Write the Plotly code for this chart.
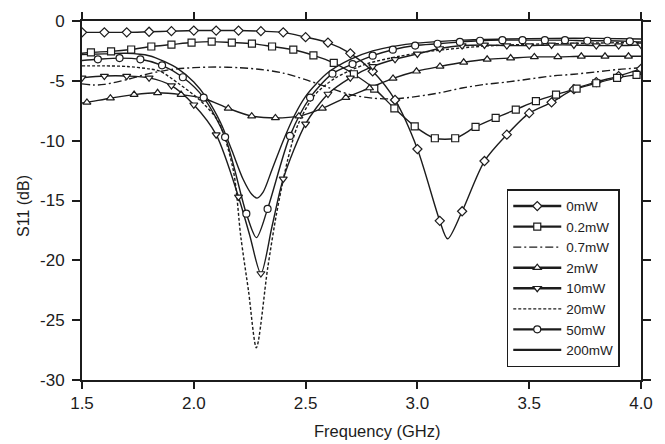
import plotly.graph_objects as go

# ---------------- data ----------------
X_TICKS = [1.5, 2.0, 2.5, 3.0, 3.5, 4.0]
X_TICK_TEXT = ["1.5", "2.0", "2.5", "3.0", "3.5", "4.0"]
Y_TICKS = [0, -5, -10, -15, -20, -25, -30]
Y_TICK_TEXT = ["0", "-5", "-10", "-15", "-20", "-25", "-30"]

SERIES_NAMES = ["0mW", "0.2mW", "0.7mW", "2mW", "10mW", "20mW", "50mW", "200mW"]

# 0 mW (diamonds) - marker points
F_0MW = [1.5, 1.6, 1.7, 1.8, 1.9, 2.0, 2.1, 2.2, 2.3, 2.4, 2.5, 2.6, 2.7, 2.8, 2.9,
         3.0, 3.1, 3.2, 3.3, 3.4, 3.5, 3.6, 3.7, 3.8, 3.9, 4.0]
S_0MW = [-0.95, -0.95, -0.95, -0.9, -0.85, -0.8, -0.8, -0.8, -0.85, -0.95, -1.35, -1.8,
         -2.7, -4.2, -6.6, -10.7, -16.7, -15.9, -11.7, -9.5, -7.7, -6.8, -5.7, -5.1, -4.6, -4.0]
# extra curve points (no marker)
F_0MW_X = [3.135]
S_0MW_X = [-18.2]

# 0.2 mW (squares)
F_02MW = [1.54, 1.63, 1.72, 1.81, 1.90, 1.99, 2.08, 2.17, 2.26, 2.35, 2.445, 2.535, 2.626,
          2.716, 2.807, 2.897, 2.988, 3.078, 3.169, 3.26, 3.35, 3.44, 3.53, 3.62, 3.712,
          3.80, 3.893, 3.98]
S_02MW = [-2.62, -2.54, -2.38, -2.13, -1.97, -1.8, -1.72, -1.8, -1.89, -2.13, -2.4, -2.87,
          -3.5, -4.45, -5.65, -7.3, -8.8, -9.8, -9.8, -8.85, -8.1, -7.4, -6.7, -6.15, -5.65,
          -5.2, -4.75, -4.5]
F_02MW_X = [1.5, 4.0]
S_02MW_X = [-2.7, -4.45]

# 0.7 mW (dash-dot, no markers)
F_07MW = [1.5, 1.55, 1.6, 1.7, 1.8, 1.9, 2.0, 2.1, 2.2, 2.3, 2.4, 2.5, 2.6, 2.7, 2.8, 2.9,
          3.0, 3.1, 3.2, 3.3, 3.4, 3.5, 3.6, 3.7, 3.8, 3.9, 4.0]
S_07MW = [-5.25, -5.35, -5.3, -4.9, -4.4, -4.05, -3.9, -3.85, -3.9, -4.05, -4.35, -4.9,
          -5.55, -6.15, -6.45, -6.5, -6.3, -6.0, -5.6, -5.3, -5.1, -4.85, -4.6, -4.45,
          -4.25, -4.05, -3.9]

# 2 mW (up triangles)
F_2MW = [1.522, 1.627, 1.733, 1.838, 1.943, 2.049, 2.154, 2.259, 2.365, 2.470, 2.575,
         2.680, 2.786, 2.891, 2.996, 3.101, 3.207, 3.312, 3.417, 3.523, 3.628, 3.733,
         3.839, 3.944]
S_2MW = [-6.8, -6.45, -6.15, -6.0, -6.15, -6.5, -7.3, -7.95, -8.1, -7.95, -7.3, -6.4,
         -5.6, -4.8, -4.2, -3.8, -3.45, -3.2, -3.1, -3.0, -3.0, -2.95, -2.95, -2.95]
F_2MW_X = [1.5, 4.0]
S_2MW_X = [-6.85, -2.95]

# 10 mW (down triangles)
F_10MW = [1.5, 1.6, 1.7, 1.8, 1.9, 2.0, 2.1, 2.2, 2.3, 2.4, 2.5, 2.6, 2.7, 2.8, 2.9,
          3.0, 3.1, 3.2, 3.3, 3.4, 3.5, 3.6, 3.7, 3.8, 3.9, 4.0]
S_10MW = [-4.75, -4.6, -4.6, -4.75, -5.4, -7.0, -9.5, -14.7, -21.1, -13.2, -8.6, -6.1,
          -4.75, -3.8, -3.2, -2.75, -2.3, -2.05, -2.0, -2.05, -2.05, -2.0, -2.0, -2.05,
          -2.05, -2.0]
F_10MW_X = [2.25, 2.35]
S_10MW_X = [-17.9, -17.15]

# 20 mW (dashed, no markers)
F_20MW = [1.5, 1.6, 1.7, 1.8, 1.85, 1.93, 2.02, 2.11, 2.177, 2.21, 2.245, 2.28, 2.33,
          2.37, 2.42, 2.465, 2.54, 2.63, 2.77, 2.92, 3.07, 3.3, 3.6, 4.0]
S_20MW = [-3.75, -3.75, -3.8, -4.0, -4.2, -5.2, -6.5, -8.4, -12.5, -18.0, -22.6, -27.3,
          -20.7, -16.1, -11.6, -8.7, -6.2, -4.8, -3.6, -2.95, -2.5, -2.1, -1.9, -1.8]

# 50 mW (circles)
F_50MW = [1.571, 1.668, 1.761, 1.858, 1.951, 2.044, 2.14, 2.235, 2.33, 2.43, 2.52, 2.62,
          2.71, 2.80, 2.89, 2.99, 3.09, 3.19, 3.28, 3.38, 3.47, 3.57, 3.66, 3.76, 3.85, 3.95]
S_50MW = [-3.2, -3.1, -3.2, -3.7, -4.7, -6.4, -9.7, -16.1, -15.7, -9.6, -6.4, -4.4, -3.6,
          -2.9, -2.4, -2.05, -1.9, -1.75, -1.65, -1.6, -1.6, -1.6, -1.6, -1.65, -1.65, -1.7]
F_50MW_X = [1.5, 2.28, 4.0]
S_50MW_X = [-3.3, -18.1, -1.75]

# 200 mW (solid, no markers)
F_200MW = [1.5, 1.6, 1.7, 1.8, 1.87, 1.93, 2.0, 2.06, 2.12, 2.17, 2.22, 2.26, 2.283, 2.31,
           2.35, 2.40, 2.45, 2.5, 2.55, 2.6, 2.7, 2.8, 2.9, 3.0, 3.2, 3.4, 3.6, 3.8, 4.0]
S_200MW = [-2.8, -2.75, -2.7, -2.9, -3.4, -4.0, -5.1, -6.5, -8.5, -10.8, -13.2, -14.5,
           -14.8, -14.3, -12.4, -10.0, -7.9, -6.3, -5.2, -4.3, -3.2, -2.5, -2.1, -1.85,
           -1.6, -1.5, -1.45, -1.45, -1.5]

# ---------------- styling ----------------
INK = "#1c1c1c"
FONT = "Liberation Sans, Arial, sans-serif"
LW = 1.4


def merged(fm, sm, fx, sx):
    pts = sorted(zip(list(fm) + list(fx), list(sm) + list(sx)))
    return [p[0] for p in pts], [p[1] for p in pts]


series = [
    # name, marker F, marker S, extra F, extra S, symbol, dash, marker size
    ("0mW", F_0MW, S_0MW, F_0MW_X, S_0MW_X, "diamond", "solid", 7),
    ("0.2mW", F_02MW, S_02MW, F_02MW_X, S_02MW_X, "square", "solid", 7),
    ("0.7mW", F_07MW, S_07MW, [], [], None, "8px,3px,2px,3px", 0),
    ("2mW", F_2MW, S_2MW, F_2MW_X, S_2MW_X, "triangle-up", "solid", 7),
    ("10mW", F_10MW, S_10MW, F_10MW_X, S_10MW_X, "triangle-down", "solid", 7),
    ("20mW", F_20MW, S_20MW, [], [], None, "3px,2px", 0),
    ("50mW", F_50MW, S_50MW, F_50MW_X, S_50MW_X, "circle", "solid", 7),
    ("200mW", F_200MW, S_200MW, [], [], None, "solid", 0),
]

fig = go.Figure()

# curves
for name, fm, sm, fx, sx, sym, dash, msz in series:
    xs, ys = merged(fm, sm, fx, sx)
    fig.add_trace(go.Scatter(
        x=xs, y=ys, mode="lines", showlegend=False, hoverinfo="skip",
        line=dict(color=INK, width=LW, dash=dash, shape="spline", smoothing=0.8),
    ))

# markers
for name, fm, sm, fx, sx, sym, dash, msz in series:
    if sym is None:
        continue
    fig.add_trace(go.Scatter(
        x=fm, y=sm, mode="markers", showlegend=False, hoverinfo="skip",
        marker=dict(symbol=sym, size=msz, color="white", line=dict(color=INK, width=1.2)),
    ))

# legend entries
for name, fm, sm, fx, sx, sym, dash, msz in series:
    if sym is None:
        fig.add_trace(go.Scatter(
            x=[None], y=[None], mode="lines", name=name,
            line=dict(color=INK, width=1.3 if dash != "solid" else 2.4, dash=dash),
        ))
    else:
        fig.add_trace(go.Scatter(
            x=[None], y=[None], mode="lines+markers", name=name,
            line=dict(color=INK, width=2.4),
            marker=dict(symbol=sym, size=msz, color="white", line=dict(color=INK, width=1.2)),
        ))

axis_common = dict(
    showline=True, linecolor=INK, linewidth=2, mirror="ticks",
    ticks="outside", tickwidth=1.5, tickcolor=INK,
    showgrid=False, zeroline=False,
    tickfont=dict(family=FONT, size=17, color=INK),
)

fig.update_layout(
    width=665, height=444,
    margin=dict(l=82, r=17, t=14, b=64),
    paper_bgcolor="white", plot_bgcolor="white",
    font=dict(family=FONT, color=INK),
    xaxis=dict(range=[1.5, 4.0], tickvals=X_TICKS, ticktext=X_TICK_TEXT, ticklen=7,
               **axis_common),
    yaxis=dict(range=[-30, 0], tickvals=Y_TICKS, ticktext=Y_TICK_TEXT, ticklen=8,
               ticklabelstandoff=4, **axis_common),
    legend=dict(
        x=0.962, y=0.0355, xanchor="right", yanchor="bottom",
        bgcolor="white", bordercolor=INK, borderwidth=1.5,
        font=dict(family=FONT, size=13.5, color=INK),
        itemwidth=48, tracegroupgap=0,
    ),
    annotations=[
        dict(text="Frequency (GHz)", x=0.528, y=-0.142, xref="paper", yref="paper",
             xanchor="center", yanchor="middle", showarrow=False,
             font=dict(family=FONT, size=16.5, color=INK)),
        dict(text="S11 (dB)", x=-0.106, y=0.484, xref="paper", yref="paper",
             xanchor="center", yanchor="middle", showarrow=False, textangle=-90,
             font=dict(family=FONT, size=16, color=INK)),
    ],
)

fig.write_html("out.html")
